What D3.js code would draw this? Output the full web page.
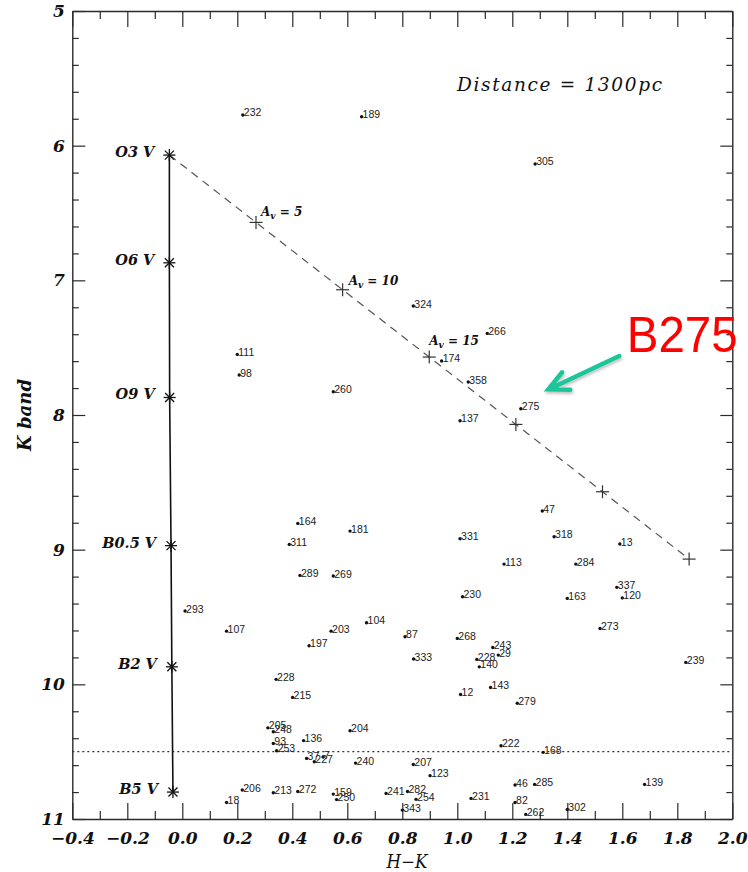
<!DOCTYPE html>
<html>
<head>
<meta charset="utf-8">
<script src="https://cdn.jsdelivr.net/npm/d3@7"></script>
<style>
  html, body { margin: 0; padding: 0; background: #ffffff; }
  svg { display: block; }
</style>
</head>
<body>
<script>
// Near-infrared colour–magnitude diagram (K vs H−K) at 1300 pc

// Axis ticks
const xTicks = [-0.4, -0.2, 0.0, 0.2, 0.4, 0.6, 0.8, 1.0, 1.2, 1.4, 1.6, 1.8, 2.0];
const yTicks = [5, 6, 7, 8, 9, 10, 11];

// Main sequence (spectral type, intrinsic H−K, K)
const msTypes = ["O3 V", "O6 V", "O9 V", "B0.5 V", "B2 V", "B5 V"];
const msHK = [-0.047, -0.047, -0.046, -0.041, -0.038, -0.034];
const msK = [6.07, 6.87, 7.87, 8.97, 9.87, 10.80];

// Reddening vector from O3 V, marked every 5 mag of visual extinction
const avValues = [5, 10, 15, 20, 25, 30];
const avHK = [0.268, 0.583, 0.898, 1.213, 1.528, 1.843];
const avK = [6.57, 7.07, 7.57, 8.07, 8.57, 9.07];
const avLabelled = [5, 10, 15];

// Sources: identifier, H−K, K
const srcIds = ["232","189","305","324","266","174","111","98","358","260",
  "275","137","47","164","181","318","331","13","311","113",
  "284","289","269","337","230","120","163","293","104","273",
  "107","203","87","268","197","243","29","333","228","239",
  "140","228","143","12","215","279","205","204","248","136",
  "93","222","253","168","7","37","227","240","207","123",
  "46","285","139","206","272","282","213","241","159","231",
  "254","250","82","18","343","302","262"];
const srcHK = [0.220,0.652,1.283,0.840,1.109,0.943,0.200,0.207,1.040,0.549,
  1.231,1.010,1.309,0.420,0.610,1.352,1.010,1.591,0.389,1.170,
  1.431,0.428,0.549,1.580,1.019,1.600,1.400,0.010,0.670,1.519,
  0.161,0.541,0.810,1.000,0.461,1.129,1.149,0.841,1.071,1.831,
  1.080,0.341,1.121,1.012,0.401,1.218,0.311,0.610,0.331,0.441,
  0.331,1.159,0.343,1.312,0.512,0.452,0.480,0.630,0.840,0.901,
  1.210,1.281,1.681,0.218,0.420,0.819,0.331,0.741,0.549,1.050,
  0.850,0.561,1.210,0.161,0.800,1.400,1.249];
const srcK = [5.772,5.785,6.136,7.191,7.394,7.599,7.550,7.703,7.755,7.827,
  7.954,8.043,8.713,8.805,8.862,8.904,8.919,8.958,8.961,9.107,
  9.107,9.191,9.196,9.280,9.350,9.358,9.362,9.456,9.543,9.585,
  9.605,9.605,9.647,9.659,9.714,9.726,9.783,9.812,9.815,9.837,
  9.870,9.963,10.023,10.075,10.097,10.141,10.323,10.345,10.352,10.418,
  10.439,10.456,10.493,10.505,10.540,10.550,10.575,10.585,10.595,10.678,
  10.748,10.743,10.743,10.785,10.796,10.796,10.805,10.810,10.815,10.847,
  10.854,10.856,10.877,10.877,10.934,10.929,10.966];

// Completeness limit
const kLimit = 10.5;

// Highlighted source annotation (data coordinates)
const calloutName = "B275";
const calloutTextAt = [1.616, 7.53];
const arrowFrom = [1.589, 7.562];
const arrowTo = [1.331, 7.810];

const W = 748, H = 872;
const serif = "'DejaVu Serif', 'Liberation Serif', serif";
const sans = "'Liberation Sans', Arial, sans-serif";
const ink = "#2b2b2b";

const svg = d3.select("body").append("svg")
  .attr("width", W).attr("height", H)
  .attr("viewBox", `0 0 ${W} ${H}`);

const defs = svg.append("defs");
const shadow = defs.append("filter").attr("id", "arrowShadow")
  .attr("x", "-20%").attr("y", "-20%").attr("width", "140%").attr("height", "160%");
shadow.append("feDropShadow").attr("dx", 1).attr("dy", 2)
  .attr("stdDeviation", 1.4).attr("flood-color", "#000").attr("flood-opacity", 0.25);

const x = d3.scaleLinear().domain([-0.4, 2.0]).range([72.3, 732.3]);
const y = d3.scaleLinear().domain([5, 11]).range([11, 819]);

const xMinor = d3.range(-0.3, 2.0, 0.2);
const yMinor = d3.range(5.2, 11, 0.2).filter(v => Math.abs(v - Math.round(v)) > 1e-6);

function styleAxis(g, keepDomain) {
  g.selectAll("line").attr("stroke", ink).attr("stroke-width", 1.2);
  if (keepDomain) g.select(".domain").attr("stroke", ink).attr("stroke-width", 1.4);
  else g.select(".domain").remove();
  g.selectAll("text")
    .attr("fill", "#111")
    .attr("font-family", serif)
    .attr("font-style", "italic")
    .attr("font-weight", "bold")
    .attr("font-size", 17);
}

// bottom axis
svg.append("g").attr("transform", `translate(0,${y(11)})`)
  .call(d3.axisBottom(x).tickValues(xTicks).tickSize(-16).tickSizeOuter(0)
    .tickPadding(12.5).tickFormat(d3.format(".1f")))
  .call(g => styleAxis(g, true));
svg.append("g").attr("transform", `translate(0,${y(11)})`)
  .call(d3.axisBottom(x).tickValues(xMinor).tickSize(-8).tickFormat(""))
  .call(g => styleAxis(g, false));

// top axis
svg.append("g").attr("transform", `translate(0,${y(5)})`)
  .call(d3.axisTop(x).tickValues(xTicks).tickSize(-16).tickSizeOuter(0).tickFormat(""))
  .call(g => styleAxis(g, true));
svg.append("g").attr("transform", `translate(0,${y(5)})`)
  .call(d3.axisTop(x).tickValues(xMinor).tickSize(-8).tickFormat(""))
  .call(g => styleAxis(g, false));

// left axis
svg.append("g").attr("transform", `translate(${x(-0.4)},0)`)
  .call(d3.axisLeft(y).tickValues(yTicks).tickSize(-13).tickSizeOuter(0)
    .tickPadding(7.5).tickFormat(d3.format("d")))
  .call(g => styleAxis(g, true));
svg.append("g").attr("transform", `translate(${x(-0.4)},0)`)
  .call(d3.axisLeft(y).tickValues(yMinor).tickSize(-6.5).tickFormat(""))
  .call(g => styleAxis(g, false));

// right axis
svg.append("g").attr("transform", `translate(${x(2.0)},0)`)
  .call(d3.axisRight(y).tickValues(yTicks).tickSize(-12).tickSizeOuter(0).tickFormat(""))
  .call(g => styleAxis(g, true));
svg.append("g").attr("transform", `translate(${x(2.0)},0)`)
  .call(d3.axisRight(y).tickValues(yMinor).tickSize(-6).tickFormat(""))
  .call(g => styleAxis(g, false));

// axis titles
svg.append("text")
  .attr("x", 407).attr("y", 868)
  .attr("text-anchor", "middle")
  .attr("font-family", serif).attr("font-style", "italic").attr("font-size", 18)
  .attr("textLength", 41).attr("lengthAdjust", "spacingAndGlyphs")
  .attr("fill", "#111")
  .text("H\u2212K");

svg.append("text")
  .attr("transform", `translate(31,${y(8.0)})rotate(-90)`)
  .attr("text-anchor", "middle")
  .attr("font-family", serif).attr("font-style", "italic").attr("font-weight", "bold")
  .attr("font-size", 19)
  .attr("textLength", 72).attr("lengthAdjust", "spacingAndGlyphs")
  .attr("fill", "#111")
  .text("K band");

// K completeness limit
svg.append("line")
  .attr("x1", x(-0.4)).attr("x2", x(2.0))
  .attr("y1", y(kLimit)).attr("y2", y(kLimit))
  .attr("stroke", "#333").attr("stroke-width", 1.1)
  .attr("stroke-dasharray", "2,3");

// reddening vector
const redPts = [[msHK[0], msK[0]]].concat(avHK.map((h, i) => [h, avK[i]]));
svg.append("path")
  .attr("d", d3.line().x(d => x(d[0])).y(d => y(d[1]))(redPts))
  .attr("fill", "none").attr("stroke", "#555").attr("stroke-width", 1.2)
  .attr("stroke-dasharray", "8,6");

const plusSize = 6.5;
const plusG = svg.append("g").attr("stroke", "#333").attr("stroke-width", 1.2);
avValues.forEach((a, i) => {
  const px = x(avHK[i]), py = y(avK[i]);
  plusG.append("line").attr("x1", px - plusSize).attr("x2", px + plusSize).attr("y1", py).attr("y2", py);
  plusG.append("line").attr("x1", px).attr("x2", px).attr("y1", py - plusSize).attr("y2", py + plusSize);
});

// extinction labels
const avLabelOffset = { 5: [5, -6], 10: [6, -5], 15: [0, -12] };
avLabelled.forEach(a => {
  const i = avValues.indexOf(a);
  const off = avLabelOffset[a];
  const t = svg.append("text")
    .attr("x", x(avHK[i]) + off[0]).attr("y", y(avK[i]) + off[1])
    .attr("font-family", serif).attr("font-style", "italic").attr("font-weight", "bold")
    .attr("font-size", 12).attr("fill", "#111");
  t.append("tspan").text("A");
  t.append("tspan").attr("dy", 3).attr("font-size", 9).text("v");
  t.append("tspan").attr("dy", -3).text(" = " + a);
});

// main sequence
svg.append("path")
  .attr("d", d3.line().x((d, i) => x(msHK[i])).y((d, i) => y(msK[i]))(msTypes))
  .attr("fill", "none").attr("stroke", "#111").attr("stroke-width", 1.6);

const starSize = 6;
const starG = svg.append("g").attr("stroke", "#111").attr("stroke-width", 1.3);
msTypes.forEach((t, i) => {
  const px = x(msHK[i]), py = y(msK[i]);
  const d = starSize * 0.75;
  starG.append("line").attr("x1", px - starSize).attr("x2", px + starSize).attr("y1", py).attr("y2", py);
  starG.append("line").attr("x1", px).attr("x2", px).attr("y1", py - starSize).attr("y2", py + starSize);
  starG.append("line").attr("x1", px - d).attr("x2", px + d).attr("y1", py - d).attr("y2", py + d);
  starG.append("line").attr("x1", px - d).attr("x2", px + d).attr("y1", py + d).attr("y2", py - d);
});

svg.append("g").selectAll("text").data(msTypes).join("text")
  .attr("x", (d, i) => x(msHK[i]) - 15)
  .attr("y", (d, i) => y(msK[i]) + 2)
  .attr("text-anchor", "end")
  .attr("font-family", serif).attr("font-style", "italic").attr("font-weight", "bold")
  .attr("font-size", 14.5).attr("fill", "#111")
  .text(d => d);

// sources
const srcG = svg.append("g");
srcG.selectAll("circle").data(srcIds).join("circle")
  .attr("cx", (d, i) => x(srcHK[i]))
  .attr("cy", (d, i) => y(srcK[i]))
  .attr("r", 1.7).attr("fill", "#111");
srcG.selectAll("text").data(srcIds).join("text")
  .attr("x", (d, i) => x(srcHK[i]) + 1)
  .attr("y", (d, i) => y(srcK[i]) + 1.5)
  .attr("font-family", sans).attr("font-size", 10.5).attr("fill", "#222")
  .text(d => d);

// distance note
svg.append("text")
  .attr("x", 457).attr("y", 91)
  .attr("font-family", serif).attr("font-style", "italic")
  .attr("font-size", 18.5).attr("fill", "#111")
  .attr("textLength", 205).attr("lengthAdjust", "spacing")
  .text("Distance = 1300pc");

// callout for B275
const ax0 = x(arrowFrom[0]), ay0 = y(arrowFrom[1]);
const ax1 = x(arrowTo[0]), ay1 = y(arrowTo[1]);
const back = Math.atan2(ay0 - ay1, ax0 - ax1);
const headLen = 22, headAng = 26 * Math.PI / 180;
const arrowG = svg.append("g")
  .attr("stroke", "#1fc69a").attr("stroke-width", 4.5)
  .attr("stroke-linecap", "round").attr("fill", "none")
  .attr("filter", "url(#arrowShadow)");
arrowG.append("path").attr("d",
  `M${ax0},${ay0}L${ax1},${ay1}` +
  `M${ax1 + headLen * Math.cos(back - headAng)},${ay1 + headLen * Math.sin(back - headAng)}` +
  `L${ax1},${ay1}` +
  `L${ax1 + headLen * Math.cos(back + headAng)},${ay1 + headLen * Math.sin(back + headAng)}`);

svg.append("text")
  .attr("x", x(calloutTextAt[0])).attr("y", y(calloutTextAt[1]))
  .attr("font-family", sans).attr("font-size", 50)
  .attr("fill", "#ff0000")
  .attr("textLength", 111).attr("lengthAdjust", "spacingAndGlyphs")
  .text(calloutName);
</script>
</body>
</html>
